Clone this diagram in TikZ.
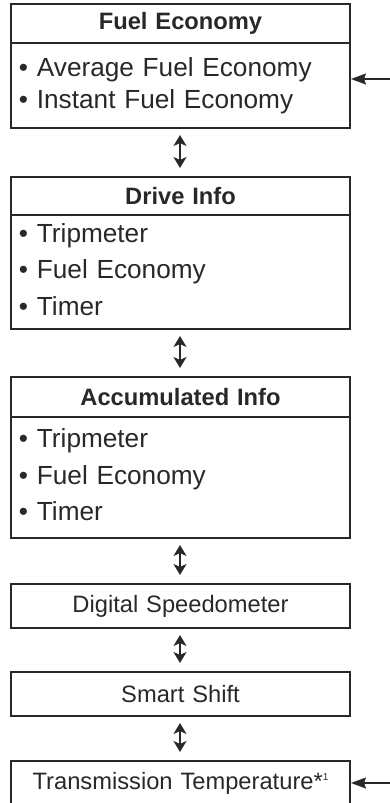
\documentclass[tikz,border=0pt]{standalone}
\usepackage{fontspec}
\setmainfont{Liberation Sans}
\definecolor{inkgray}{RGB}{40,40,40}
\usetikzlibrary{arrows.meta, positioning}

\begin{document}
\begin{tikzpicture}[x=1pt, y=1pt,
  headbox/.style={draw=inkgray, line width=1.2pt, outer sep=0pt, text width=323pt, minimum height=#1, align=center, inner xsep=8pt, inner ysep=0pt, text=inkgray, font=\fontsize{23.7}{28}\selectfont\bfseries},
  listbox/.style={draw=inkgray, line width=1.2pt, outer sep=0pt, text width=323pt, minimum height=#1, align=left, inner xsep=8pt, inner ysep=0pt, text=inkgray, font=\fontsize{26.2}{36.5}\selectfont},
  sbox/.style={draw=inkgray, line width=1.2pt, outer sep=0pt, text width=323pt, minimum height=44pt, align=center, inner xsep=8pt, inner ysep=0pt, text=inkgray, font=\fontsize{23.7}{28}\selectfont},
  darr/.style={{Stealth[length=11pt, width=13pt, inset=3pt]}-{Stealth[length=11pt, width=13pt, inset=3pt]}, line width=1.4pt, draw=inkgray, shorten <=7pt, shorten >=9pt},
  inarr/.style={-{Stealth[length=15pt, width=11pt, inset=2pt]}, line width=1.2pt, draw=inkgray, shorten >=1pt}
]
  \useasboundingbox (0,0) rectangle (390,-803);

  \node[headbox=39pt] (fuelhead) at (180.5,-23.5) {Fuel Economy};
  \node[listbox=85pt, font=\fontsize{26.2}{32}\selectfont, below=0pt of fuelhead] (fuelbody) {• Average Fuel Economy\\• Instant Fuel Economy};

  \node[headbox=38pt] (drivehead) at (180.5,-196) {Drive Info};
  \node[listbox=114pt, below=0pt of drivehead] (drivebody) {• Tripmeter\\• Fuel Economy\\• Timer\par\vspace{5pt}};

  \node[headbox=40pt] (accuhead) at (180.5,-397) {Accumulated Info};
  \node[listbox=121pt, below=0pt of accuhead] (accubody) {• Tripmeter\\• Fuel Economy\\• Timer\par\vspace{5pt}};

  \node[sbox] (speedo) at (180.5,-606) {Digital Speedometer};
  \node[sbox] (shift) at (180.5,-694) {Smart Shift};
  \node[sbox] (transtemp) at (180.5,-783) {Transmission Temperature*\raisebox{9pt}{\fontsize{10}{10}\selectfont 1}};

  \draw[darr] ([xshift=-0.5pt]fuelbody.south) -- ([xshift=-0.5pt]drivehead.north);
  \draw[darr] ([xshift=-0.5pt]drivebody.south) -- ([xshift=-0.5pt]accuhead.north);
  \draw[darr] ([xshift=-0.5pt]accubody.south) -- ([xshift=-0.5pt]speedo.north);
  \draw[darr] ([xshift=-0.5pt]speedo.south) -- ([xshift=-0.5pt]shift.north);
  \draw[darr] ([xshift=-0.5pt]shift.south) -- ([xshift=-0.5pt]transtemp.north);

  \coordinate (fuelin) at (390,-79);
  \coordinate (transin) at (390,-783);
  \draw[inarr] (fuelin) -- (fuelbody.east |- fuelin);
  \draw[inarr] (transin) -- (transtemp.east);
\end{tikzpicture}
\end{document}
